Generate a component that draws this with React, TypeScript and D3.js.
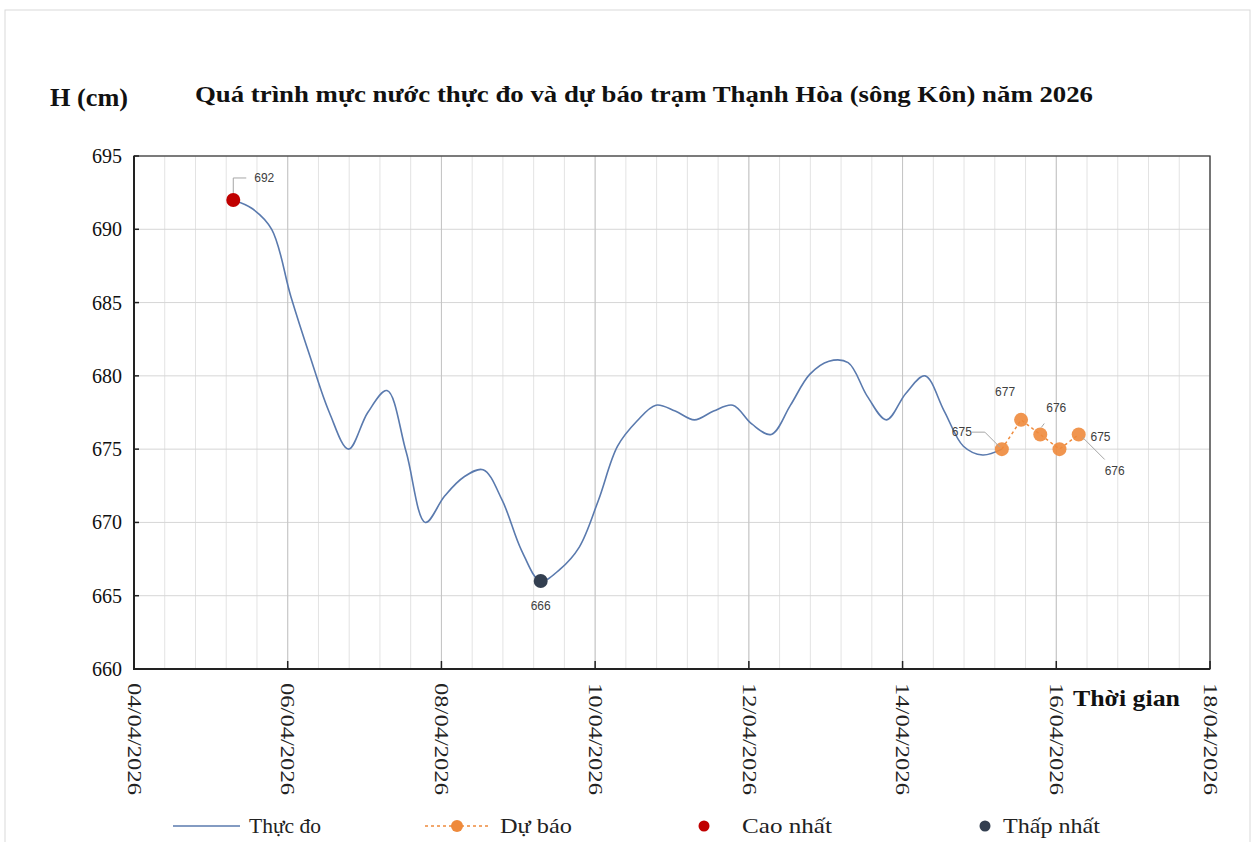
import React from "react";
import * as d3 from "d3";

const TITLE = "Quá trình mực nước thực đo và dự báo trạm Thạnh Hòa (sông Kôn) năm 2026";
const Y_LABEL = "H (cm)";
const X_LABEL = "Thời gian";

const xTickLabels = ["04/04/2026", "06/04/2026", "08/04/2026", "10/04/2026", "12/04/2026", "14/04/2026", "16/04/2026", "18/04/2026"];
const xTickDates = ["2026-04-04T00:00", "2026-04-06T00:00", "2026-04-08T00:00", "2026-04-10T00:00", "2026-04-12T00:00", "2026-04-14T00:00", "2026-04-16T00:00", "2026-04-18T00:00"];
const yTicks = [660, 665, 670, 675, 680, 685, 690, 695];

const obsTimes = [
  "2026-04-05T07:00", "2026-04-05T13:00", "2026-04-05T19:00", "2026-04-06T01:00",
  "2026-04-06T07:00", "2026-04-06T13:00", "2026-04-06T19:00", "2026-04-07T01:00",
  "2026-04-07T07:00", "2026-04-07T13:00", "2026-04-07T19:00", "2026-04-08T01:00",
  "2026-04-08T07:00", "2026-04-08T13:00", "2026-04-08T19:00", "2026-04-09T01:00",
  "2026-04-09T07:00", "2026-04-09T13:00", "2026-04-09T19:00", "2026-04-10T01:00",
  "2026-04-10T07:00", "2026-04-10T13:00", "2026-04-10T19:00", "2026-04-11T01:00",
  "2026-04-11T07:00", "2026-04-11T13:00", "2026-04-11T19:00", "2026-04-12T01:00",
  "2026-04-12T07:00", "2026-04-12T13:00", "2026-04-12T19:00", "2026-04-13T01:00",
  "2026-04-13T07:00", "2026-04-13T13:00", "2026-04-13T19:00", "2026-04-14T01:00",
  "2026-04-14T07:00", "2026-04-14T13:00", "2026-04-14T19:00", "2026-04-15T01:00",
  "2026-04-15T07:00",
];
const obsValues = [
  692, 691.4, 690, 685.4,
  681.3, 677.5, 675, 677.5,
  679, 674.8, 670, 671.8,
  673.1, 673.6, 671.5, 668.1,
  666, 666.8, 668.3, 671.5,
  675.2, 676.9, 678, 677.6,
  677, 677.6, 678, 676.7,
  676, 678, 680.1, 681,
  680.9, 678.6, 677, 678.8,
  680, 677.6, 675.2, 674.6,
  675,
];

const fcTimes = ["2026-04-15T07:00", "2026-04-15T13:00", "2026-04-15T19:00", "2026-04-16T01:00", "2026-04-16T07:00"];
const fcValues = [675, 677, 676, 675, 676];

const maxPoint = { time: "2026-04-05T07:00", value: 692 };
const minPoint = { time: "2026-04-09T07:00", value: 666 };

const legendLabels = ["Thực đo", "Dự báo", "Cao nhất", "Thấp nhất"];

const W = 1255;
const H = 842;
const M = { left: 134, right: 1210, top: 156, bottom: 669 };

const COL_OBS = "#5A7AAE";
const COL_FC = "#EE8A3C";
const COL_MAX = "#C00000";
const COL_MIN = "#333F50";
const SERIF = "'Liberation Serif', 'Times New Roman', serif";
const SANS = "'Liberation Sans', Arial, sans-serif";

const parse = d3.timeParse("%Y-%m-%dT%H:%M");

export default function App() {
  const x = d3.scaleTime().domain([parse(xTickDates[0])!, parse(xTickDates[xTickDates.length - 1])!]).range([M.left, M.right]);
  const y = d3.scaleLinear().domain([660, 695]).range([M.bottom, M.top]);

  const obs = obsTimes.map((t, i) => ({ t: parse(t)!, v: obsValues[i] }));
  const fc = fcTimes.map((t, i) => ({ t: parse(t)!, v: fcValues[i] }));

  const lineObs = d3.line<{ t: Date; v: number }>().x((d) => x(d.t)).y((d) => y(d.v)).curve(d3.curveCatmullRom.alpha(0.5));
  const lineFc = d3.line<{ t: Date; v: number }>().x((d) => x(d.t)).y((d) => y(d.v));

  const t0 = x.domain()[0].getTime();
  const t1 = x.domain()[1].getTime();
  const minorStep = 0.4 * 24 * 3600 * 1000;
  const minorTicks: Date[] = [];
  for (let t = t0; t <= t1 + 1; t += minorStep) minorTicks.push(new Date(t));
  const majorTicks = xTickDates.map((d) => parse(d)!);

  const mx = x(parse(maxPoint.time)!);
  const my = y(maxPoint.value);
  const nx = x(parse(minPoint.time)!);
  const ny = y(minPoint.value);
  const fp = fc.map((d) => [x(d.t), y(d.v)]);

  const fcLabels = [
    { text: String(fcValues[0]), dx: -50, dy: -17, leader: [[-30, -17], [-17, -17], [-2, -2]] },
    { text: String(fcValues[1]), dx: -26, dy: -28, leader: null },
    { text: String(fcValues[2]), dx: 6, dy: -27, leader: [[4, -11], [1, -7]] },
    { text: String(fcValues[3]), dx: 31, dy: -12, leader: null },
    { text: String(fcValues[4]), dx: 26, dy: 36, leader: [[26, 25], [4, 3]] },
  ];

  const legY = 826;
  const legendX = [249, 500, 742, 1003];
  const legendW = [72, 72, 90, 97];

  return (
    <svg width={W} height={H} style={{ position: "absolute", left: 0, top: 0, background: "#fff" }} fontFamily={SERIF}>
      <rect x={0} y={0} width={W} height={H} fill="#fff" />
      <rect x={5} y={10} width={1245} height={850} fill="#fff" stroke="#D9D9D9" strokeWidth={1} />

      {/* grid */}
      {minorTicks.map((d, i) => (
        <line key={"mn" + i} x1={x(d)} x2={x(d)} y1={M.top} y2={M.bottom} stroke="#E3E3E3" strokeWidth={1} />
      ))}
      {yTicks.map((v) => (
        <line key={"hy" + v} x1={M.left} x2={M.right} y1={y(v)} y2={y(v)} stroke="#D6D6D6" strokeWidth={1} />
      ))}
      {majorTicks.map((d, i) => (
        <line key={"mj" + i} x1={x(d)} x2={x(d)} y1={M.top} y2={M.bottom} stroke="#C4C4C4" strokeWidth={1} />
      ))}

      {/* plot border */}
      <rect x={M.left} y={M.top} width={M.right - M.left} height={M.bottom - M.top} fill="none" stroke="#404040" strokeWidth={1.3} />
      <line x1={M.left} x2={M.left} y1={M.top} y2={M.bottom + 1} stroke="#222" strokeWidth={2} />
      <line x1={M.left - 1} x2={M.right} y1={M.bottom} y2={M.bottom} stroke="#222" strokeWidth={2} />

      {/* y ticks */}
      {yTicks.map((v) => (
        <g key={"yt" + v}>
          <line x1={M.left} x2={M.left + 5} y1={y(v)} y2={y(v)} stroke="#222" strokeWidth={1.5} />
          <text x={122} y={y(v)} dy="0.35em" textAnchor="end" fontSize={20} fill="#111">
            {v}
          </text>
        </g>
      ))}

      {/* x ticks */}
      {majorTicks.map((d, i) => (
        <g key={"xt" + i}>
          <line x1={x(d)} x2={x(d)} y1={M.bottom} y2={M.bottom - 8} stroke="#222" strokeWidth={1.5} />
          <text
            transform={`translate(${x(d)},${683}) rotate(90)`}
            dy="0.35em"
            fontSize={18}
            fill="#222"
            textLength={112}
            lengthAdjust="spacingAndGlyphs"
          >
            {xTickLabels[i]}
          </text>
        </g>
      ))}

      {/* titles */}
      <text x={195} y={102} fontSize={24} fontWeight="bold" fill="#111" textLength={898} lengthAdjust="spacingAndGlyphs">
        {TITLE}
      </text>
      <text x={50} y={106} fontSize={25} fontWeight="bold" fill="#111" textLength={78} lengthAdjust="spacingAndGlyphs">
        {Y_LABEL}
      </text>
      <text x={1073} y={706} fontSize={24} fontWeight="bold" fill="#111" textLength={107} lengthAdjust="spacingAndGlyphs">
        {X_LABEL}
      </text>

      {/* observed */}
      <path d={lineObs(obs) || ""} fill="none" stroke={COL_OBS} strokeWidth={1.6} />

      {/* forecast */}
      <path d={lineFc(fc) || ""} fill="none" stroke={COL_FC} strokeWidth={1.5} strokeDasharray="3,3" />
      {fp.map((p, i) => (
        <circle key={"fc" + i} cx={p[0]} cy={p[1]} r={7} fill={COL_FC} fillOpacity={0.9} />
      ))}

      {/* max / min markers */}
      <polyline points={`${mx},${my - 7} ${mx},${my - 22} ${mx + 13},${my - 22}`} fill="none" stroke="#A6A6A6" strokeWidth={1} />
      <circle cx={mx} cy={my} r={7} fill={COL_MAX} />
      <text x={mx + 21} y={my - 22} dy="0.35em" fontSize={12} fill="#404040" fontFamily={SANS}>
        {maxPoint.value}
      </text>
      <circle cx={nx} cy={ny} r={7} fill={COL_MIN} />
      <text x={nx} y={ny + 25} dy="0.35em" textAnchor="middle" fontSize={12} fill="#404040" fontFamily={SANS}>
        {minPoint.value}
      </text>

      {/* forecast labels */}
      {fcLabels.map((l, i) => {
        const [ax, ay] = fp[i];
        return (
          <g key={"fl" + i}>
            {l.leader && (
              <polyline
                points={l.leader.map((p) => `${ax + p[0]},${ay + p[1]}`).join(" ")}
                fill="none"
                stroke="#A6A6A6"
                strokeWidth={1}
              />
            )}
            <text x={ax + l.dx} y={ay + l.dy} dy="0.35em" textAnchor="start" fontSize={12} fill="#404040" fontFamily={SANS}>
              {l.text}
            </text>
          </g>
        );
      })}

      {/* legend */}
      <g fontSize={22} fill="#222">
        <line x1={173} x2={240} y1={legY} y2={legY} stroke={COL_OBS} strokeWidth={1.6} />
        <line x1={425} x2={490} y1={legY} y2={legY} stroke={COL_FC} strokeWidth={1.5} strokeDasharray="3,3" />
        <circle cx={457} cy={legY} r={6} fill={COL_FC} />
        <circle cx={704} cy={legY} r={5.5} fill={COL_MAX} />
        <circle cx={985} cy={legY} r={5.5} fill={COL_MIN} />
        {legendLabels.map((l, i) => (
          <text key={"lg" + i} x={legendX[i]} y={legY} dy="0.33em" textLength={legendW[i]} lengthAdjust="spacingAndGlyphs">
            {l}
          </text>
        ))}
      </g>
    </svg>
  );
}
